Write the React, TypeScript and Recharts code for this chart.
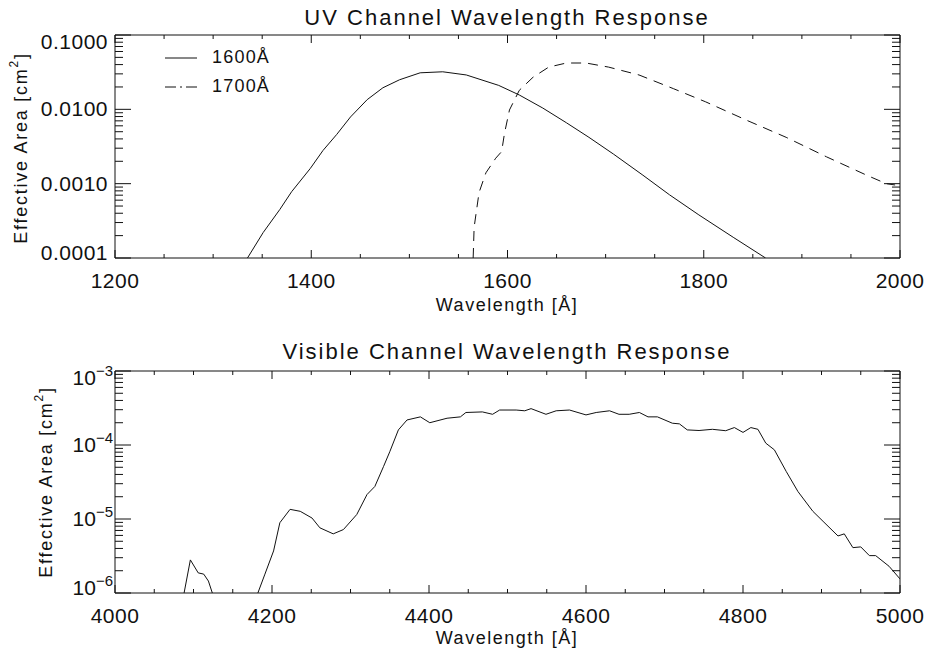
import { Legend, Line, LineChart, XAxis, YAxis } from 'recharts'

const FONT = '"Liberation Sans", Arial, sans-serif'
const INK = '#111'

// UV channel (top panel)
const wl1600 = [1335, 1351, 1368, 1380, 1399, 1412, 1426, 1440, 1457, 1473, 1490, 1511, 1534, 1558, 1591, 1612, 1636, 1660, 1683, 1708, 1738, 1765, 1795, 1830, 1863]
const area1600 = [1e-4, 2.2e-4, 4.5e-4, 7.8e-4, 1.6e-3, 2.8e-3, 4.6e-3, 7.9e-3, 0.0135, 0.0195, 0.025, 0.031, 0.032, 0.029, 0.021, 0.0156, 0.0104, 0.0066, 0.0042, 0.0025, 0.0013, 7.1e-4, 3.8e-4, 1.9e-4, 1e-4]
const wl1700 = [1565, 1566, 1571, 1578, 1588, 1594, 1597, 1602, 1612, 1626, 1642, 1660, 1680, 1703, 1734, 1769, 1802, 1843, 1884, 1925, 1966, 1986, 1995]
const area1700 = [1e-4, 2.6e-4, 7.6e-4, 1.4e-3, 2.2e-3, 2.7e-3, 4.8e-3, 9.8e-3, 0.018, 0.027, 0.037, 0.042, 0.042, 0.037, 0.029, 0.019, 0.0126, 0.0072, 0.0042, 0.0023, 0.0013, 1.0e-3, 9.6e-4]

// Visible channel (bottom panel), null = gap below the axis
const wlVis = [4088, 4096, 4106, 4113, 4119, 4124, 4150, 4182, 4191, 4202, 4210, 4223, 4236, 4251, 4261, 4278, 4291, 4308, 4321, 4331, 4342, 4350, 4361, 4372, 4389, 4401, 4423, 4440, 4447, 4468, 4481, 4490, 4511, 4522, 4530, 4549, 4562, 4579, 4600, 4613, 4630, 4642, 4655, 4668, 4679, 4691, 4710, 4719, 4729, 4744, 4761, 4778, 4789, 4800, 4810, 4819, 4829, 4840, 4855, 4870, 4889, 4902, 4921, 4929, 4940, 4950, 4961, 4969, 4986, 5000]
const areaVis = [1e-6, 2.8e-6, 1.87e-6, 1.8e-6, 1.45e-6, 1e-6, null, 1e-6, 1.8e-6, 3.7e-6, 8.9e-6, 1.35e-5, 1.27e-5, 1.03e-5, 7.6e-6, 6.3e-6, 7.2e-6, 1.15e-5, 2.14e-5, 2.75e-5, 5.1e-5, 8.1e-5, 1.6e-4, 2.18e-4, 2.4e-4, 2.0e-4, 2.3e-4, 2.4e-4, 2.75e-4, 2.8e-4, 2.6e-4, 2.97e-4, 2.97e-4, 2.9e-4, 3.1e-4, 2.6e-4, 2.9e-4, 2.97e-4, 2.55e-4, 2.75e-4, 2.9e-4, 2.6e-4, 2.6e-4, 2.75e-4, 2.4e-4, 2.4e-4, 1.97e-4, 1.93e-4, 1.6e-4, 1.57e-4, 1.63e-4, 1.56e-4, 1.72e-4, 1.48e-4, 1.72e-4, 1.63e-4, 1.06e-4, 8.6e-5, 4.4e-5, 2.35e-5, 1.27e-5, 9.3e-6, 5.9e-6, 6.3e-6, 4.1e-6, 4.2e-6, 3.2e-6, 3.2e-6, 2.3e-6, 1.55e-6]

// axis ticks
const uvXTicks = [1200, 1250, 1300, 1350, 1400, 1450, 1500, 1550, 1600, 1650, 1700, 1750, 1800, 1850, 1900, 1950, 2000]
const uvXMajors = [1200, 1400, 1600, 1800, 2000]
const uvYMajors = [0.0001, 0.001, 0.01, 0.1]
const uvYLabels = ['0.0001', '0.0010', '0.0100', '0.1000']
const visXTicks = [4000, 4050, 4100, 4150, 4200, 4250, 4300, 4350, 4400, 4450, 4500, 4550, 4600, 4650, 4700, 4750, 4800, 4850, 4900, 4950, 5000]
const visXMajors = [4000, 4200, 4400, 4600, 4800, 5000]
const visYMajors = [1e-6, 1e-5, 1e-4, 1e-3]
const visYExponents = ['\u22126', '\u22125', '\u22124', '\u22123']
const minorSteps = [2, 3, 4, 5, 6, 7, 8, 9]

const legendItems = [
  { label: '1600Å', dash: undefined },
  { label: '1700Å', dash: '11 4 2 4' },
]

const logTicks = (majors: number[]) => {
  const out: number[] = []
  majors.forEach((m, i) => {
    out.push(m)
    if (i < majors.length - 1) minorSteps.forEach((s) => out.push(m * s))
  })
  return out
}

const uv1600 = wl1600.map((w, i) => ({ wavelength: w, area: area1600[i] }))
const uv1700 = wl1700.map((w, i) => ({ wavelength: w, area: area1700[i] }))
const visData = wlVis.map((w, i) => ({ wavelength: w, area: areaVis[i] }))

const textStyle = { fontFamily: FONT, fill: INK }

function XTick(props: any) {
  const { x, y, payload, majors, top } = props
  const major = majors.includes(payload.value)
  const len = major ? 8 : 4
  return (
    <g>
      <line x1={x} y1={y} x2={x} y2={top ? y + len : y - len} stroke={INK} />
      {!top && major ? (
        <text x={x} y={y + 30} textAnchor="middle" fontSize={21} letterSpacing={0.5} style={textStyle}>
          {payload.value}
        </text>
      ) : null}
    </g>
  )
}

function YTick(props: any) {
  const { x, y, payload, majors, labels, right, power } = props
  const idx = majors.indexOf(payload.value)
  const major = idx >= 0
  const len = major ? 16 : 8
  let shift = 7
  if (idx === majors.length - 1) shift = 14
  if (idx === 0) shift = 2
  return (
    <g>
      <line x1={x} y1={y} x2={right ? x - len : x + len} y2={y} stroke={INK} />
      {!right && major ? (
        power ? (
          <text x={x - 2} y={y + shift} textAnchor="end" fontSize={21} style={textStyle}>
            <tspan>10</tspan>
            <tspan dy={-9} fontSize={15}>{labels[idx]}</tspan>
          </text>
        ) : (
          <text x={x - 7} y={y + shift} textAnchor="end" fontSize={21} letterSpacing={0.5} style={textStyle}>
            {labels[idx]}
          </text>
        )
      ) : null}
    </g>
  )
}

function Title({ text, baseY }: { text: string; baseY: number }) {
  return (
    <text x={507} y={baseY} textAnchor="middle" fontSize={22} letterSpacing={2} style={textStyle}>
      {text}
    </text>
  )
}

function XLabel({ baseY }: { baseY: number }) {
  return (
    <text x={507} y={baseY} textAnchor="middle" fontSize={18} letterSpacing={1.5} style={textStyle}>
      Wavelength [Å]
    </text>
  )
}

function YLabel({ px, py }: { px: number; py: number }) {
  return (
    <text
      x={px}
      y={py}
      transform={`rotate(-90, ${px}, ${py})`}
      textAnchor="middle"
      dominantBaseline="central"
      fontSize={18}
      letterSpacing={1.75}
      style={textStyle}
    >
      <tspan>Effective Area [cm</tspan>
      <tspan dy={-7} fontSize={12}>2</tspan>
      <tspan dy={7}>]</tspan>
    </text>
  )
}

function UvLegend() {
  return (
    <div style={{ fontFamily: FONT, fontSize: 18, letterSpacing: 1.2, color: INK }}>
      {legendItems.map((it) => (
        <div key={it.label} style={{ display: 'flex', alignItems: 'center', height: 29 }}>
          <svg width={33} height={10}>
            <line x1={0} y1={5} x2={32} y2={5} stroke={INK} strokeDasharray={it.dash} />
          </svg>
          <span style={{ marginLeft: 14 }}>{it.label}</span>
        </div>
      ))}
    </div>
  )
}

const axisLine = { stroke: INK }

export default function App() {
  const uvYTicks = logTicks(uvYMajors)
  const visYTicks = logTicks(visYMajors)
  return (
    <div style={{ position: 'absolute', left: 0, top: 0, width: 932, height: 653, background: '#fff' }}>
      <div style={{ position: 'absolute', left: 0, top: 0 }}>
        <LineChart width={932} height={325} margin={{ top: 34, right: 31, bottom: 0, left: 0 }}>
          <XAxis
            dataKey="wavelength"
            type="number"
            domain={[1200, 2000]}
            ticks={uvXTicks}
            interval={0}
            height={67}
            tickSize={0}
            tickMargin={0}
            tickLine={false}
            axisLine={axisLine}
            allowDataOverflow
            tick={(p: any) => <XTick {...p} majors={uvXMajors} />}
            label={<XLabel baseY={311} />}
          />
          <XAxis
            xAxisId="top"
            dataKey="wavelength"
            orientation="top"
            type="number"
            domain={[1200, 2000]}
            ticks={uvXTicks}
            interval={0}
            height={1}
            tickSize={0}
            tickMargin={0}
            tickLine={false}
            axisLine={axisLine}
            allowDataOverflow
            tick={(p: any) => <XTick {...p} majors={uvXMajors} top />}
            label={<Title text="UV Channel Wavelength Response" baseY={25} />}
          />
          <YAxis
            type="number"
            scale="log"
            domain={[1e-4, 0.1]}
            ticks={uvYTicks}
            interval={0}
            width={115}
            tickSize={0}
            tickMargin={0}
            tickLine={false}
            axisLine={axisLine}
            allowDataOverflow
            tick={(p: any) => <YTick {...p} majors={uvYMajors} labels={uvYLabels} />}
            label={<YLabel px={21} py={148} />}
          />
          <YAxis
            yAxisId="right"
            orientation="right"
            type="number"
            scale="log"
            domain={[1e-4, 0.1]}
            ticks={uvYTicks}
            interval={0}
            width={1}
            tickSize={0}
            tickMargin={0}
            tickLine={false}
            axisLine={axisLine}
            allowDataOverflow
            tick={(p: any) => <YTick {...p} majors={uvYMajors} labels={uvYLabels} right />}
          />
          <Legend
            layout="vertical"
            align="center"
            verticalAlign="middle"
            content={() => <UvLegend />}
            wrapperStyle={{ left: 165, top: 43, width: 'auto' }}
          />
          <Line data={uv1600} dataKey="area" stroke={INK} strokeWidth={1} dot={false} isAnimationActive={false} />
          <Line
            data={uv1700}
            dataKey="area"
            stroke={INK}
            strokeWidth={1}
            strokeDasharray="10 7"
            dot={false}
            isAnimationActive={false}
          />
          {/* invisible copy so the mirrored top/right axes get drawn */}
          <Line
            data={uv1600}
            dataKey="area"
            xAxisId="top"
            yAxisId="right"
            stroke="none"
            dot={false}
            legendType="none"
            isAnimationActive={false}
          />
        </LineChart>
      </div>
      <div style={{ position: 'absolute', left: 0, top: 330 }}>
        <LineChart width={932} height={323} margin={{ top: 40, right: 31, bottom: 0, left: 0 }}>
          <XAxis
            dataKey="wavelength"
            type="number"
            domain={[4000, 5000]}
            ticks={visXTicks}
            interval={0}
            height={60}
            tickSize={0}
            tickMargin={0}
            tickLine={false}
            axisLine={axisLine}
            allowDataOverflow
            tick={(p: any) => <XTick {...p} majors={visXMajors} />}
            label={<XLabel baseY={314} />}
          />
          <XAxis
            xAxisId="top"
            dataKey="wavelength"
            orientation="top"
            type="number"
            domain={[4000, 5000]}
            ticks={visXTicks}
            interval={0}
            height={1}
            tickSize={0}
            tickMargin={0}
            tickLine={false}
            axisLine={axisLine}
            allowDataOverflow
            tick={(p: any) => <XTick {...p} majors={visXMajors} top />}
            label={<Title text="Visible Channel Wavelength Response" baseY={29} />}
          />
          <YAxis
            type="number"
            scale="log"
            domain={[1e-6, 1e-3]}
            ticks={visYTicks}
            interval={0}
            width={115}
            tickSize={0}
            tickMargin={0}
            tickLine={false}
            axisLine={axisLine}
            allowDataOverflow
            tick={(p: any) => <YTick {...p} majors={visYMajors} labels={visYExponents} power />}
            label={<YLabel px={46} py={152} />}
          />
          <YAxis
            yAxisId="right"
            orientation="right"
            type="number"
            scale="log"
            domain={[1e-6, 1e-3]}
            ticks={visYTicks}
            interval={0}
            width={1}
            tickSize={0}
            tickMargin={0}
            tickLine={false}
            axisLine={axisLine}
            allowDataOverflow
            tick={(p: any) => <YTick {...p} majors={visYMajors} labels={visYExponents} right />}
          />
          <Line data={visData} dataKey="area" stroke={INK} strokeWidth={1} dot={false} isAnimationActive={false} />
          <Line
            data={visData}
            dataKey="area"
            xAxisId="top"
            yAxisId="right"
            stroke="none"
            dot={false}
            legendType="none"
            isAnimationActive={false}
          />
        </LineChart>
      </div>
    </div>
  )
}
